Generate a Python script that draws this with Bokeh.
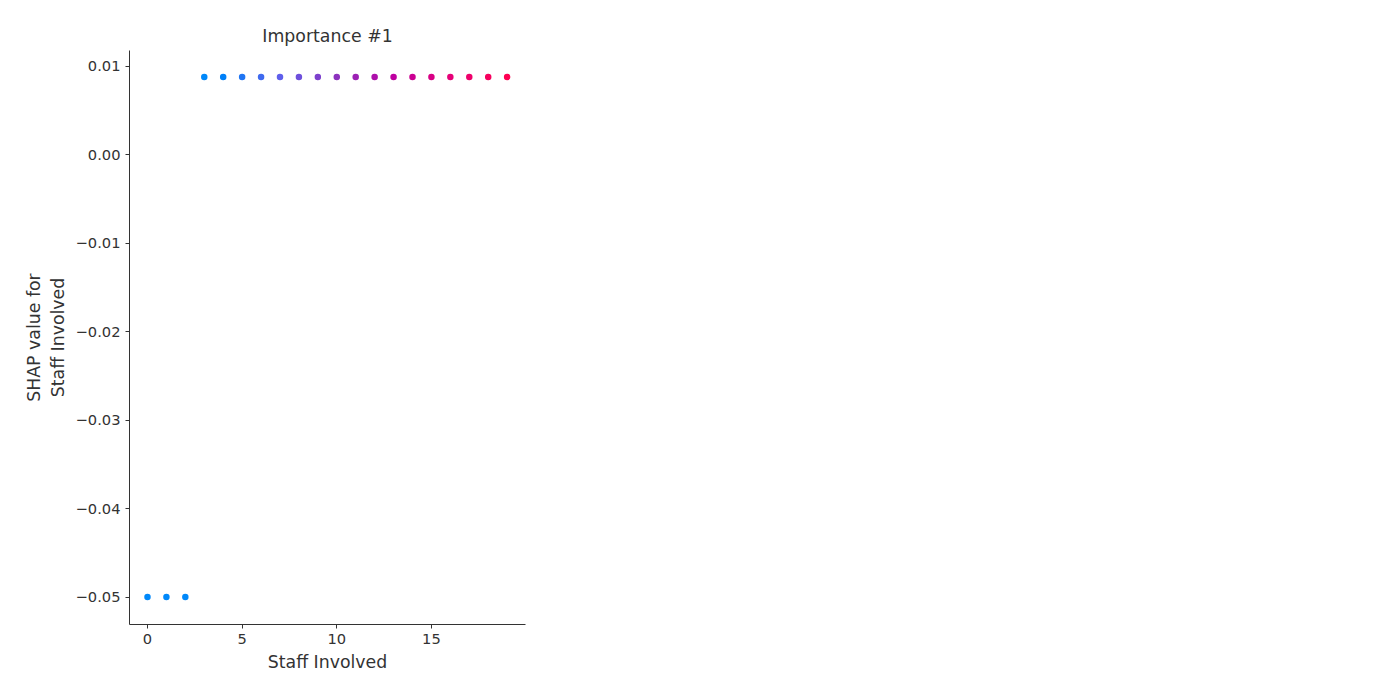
from bokeh.plotting import figure
from bokeh.models import ColumnDataSource, CustomJSTickFormatter, FixedTicker
from bokeh.transform import linear_cmap
from bokeh.embed import file_html
from bokeh.resources import INLINE

staff = list(range(20))
shap_vals = [-0.05, -0.05, -0.05] + [0.0088] * 17

# shap-like red/blue palette
anchors = [(0, 128, 248), (95, 95, 235), (140, 50, 190), (190, 0, 160), (230, 0, 120), (255, 0, 82)]
pal = []
for i in range(256):
    t = i / 255 * (len(anchors) - 1)
    k = min(int(t), len(anchors) - 2)
    f = t - k
    a, b = anchors[k], anchors[k + 1]
    pal.append("#%02x%02x%02x" % tuple(int(a[j] + (b[j] - a[j]) * f) for j in range(3)))

src = ColumnDataSource(dict(x=staff, y=shap_vals))

p = figure(width=533, height=684, output_backend="svg", toolbar_location=None,
           x_range=(-0.95, 19.97), y_range=(-0.0531, 0.0118),
           title="Importance #1", min_border_left=129, min_border_right=8,
           min_border_top=50, min_border_bottom=60)
p.title.align = "center"
p.title.text_font = "DejaVu Sans"
p.title.text_font_style = "normal"
p.title.text_font_size = "13pt"
p.title.text_color = "#333333"

p.scatter("x", "y", source=src, size=6.5, line_color=None,
          fill_color=linear_cmap("x", pal, low=4, high=19, low_color="#0088fa"))

p.xgrid.visible = False
p.ygrid.visible = False
p.outline_line_color = None
p.xaxis.ticker = FixedTicker(ticks=[0, 5, 10, 15])
p.yaxis.ticker = FixedTicker(ticks=[0.01, 0.0, -0.01, -0.02, -0.03, -0.04, -0.05])
p.yaxis.formatter = CustomJSTickFormatter(code="return tick.toFixed(2).replace('-', '\u2212');")
p.xaxis.axis_label = "Staff Involved"
p.yaxis.axis_label = "SHAP value for\nStaff Involved"
for ax in (p.xaxis, p.yaxis):
    ax.minor_tick_line_color = None
    ax.major_label_text_font = "DejaVu Sans"
    ax.major_label_text_font_size = "11pt"
    ax.major_label_text_color = "#333333"
    ax.axis_label_text_font = "DejaVu Sans"
    ax.axis_label_text_font_style = "normal"
    ax.axis_label_text_font_size = "13pt"
    ax.axis_label_text_color = "#333333"
    ax.axis_line_color = "#333333"
    ax.major_tick_line_color = "#333333"
    ax.major_tick_out = 4
    ax.major_tick_in = 0

open("out.html", "w").write(file_html(p, INLINE))
